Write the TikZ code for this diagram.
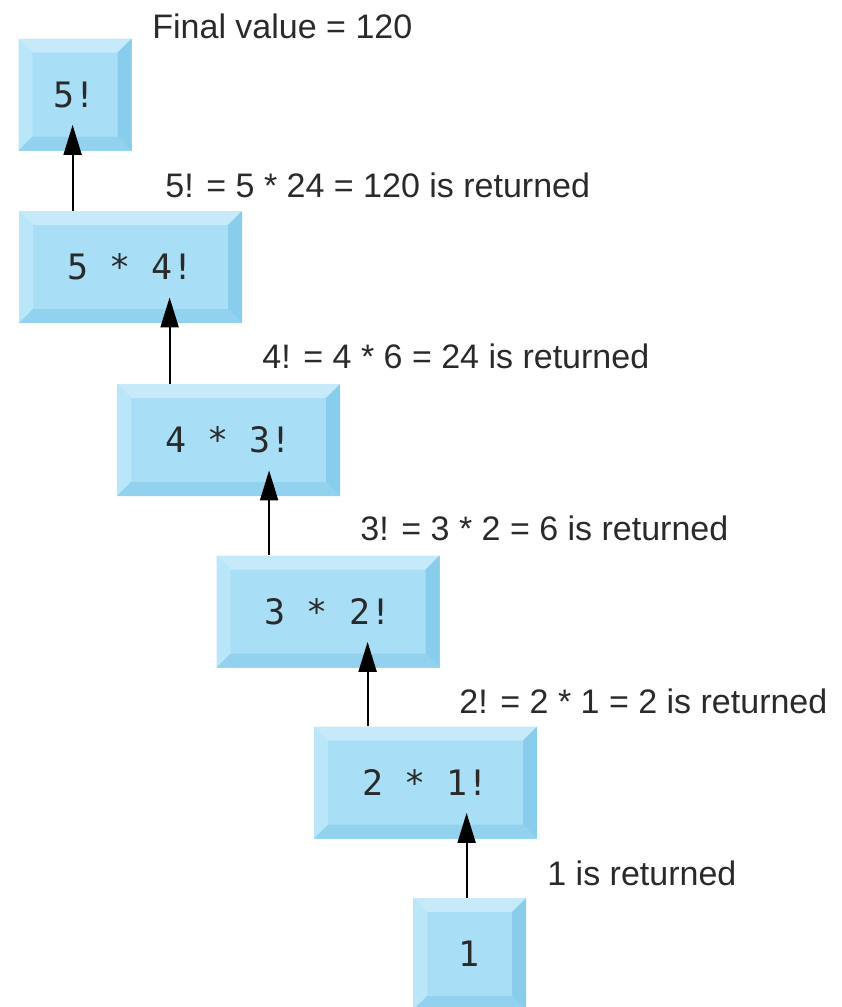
\documentclass[tikz,border=0pt]{standalone}
\usepackage{fontspec}
\setmainfont{Liberation Sans}
\setmonofont{DejaVu Sans Mono}
\usetikzlibrary{arrows.meta}
\definecolor{face}{HTML}{A8DEF6}
\definecolor{btop}{HTML}{C6EAFA}
\definecolor{bleft}{HTML}{BAE6F9}
\definecolor{bright}{HTML}{88CDEB}
\definecolor{bbottom}{HTML}{92D2EF}
\definecolor{txt}{HTML}{2A2A2A}
\tikzset{
  bbox/.style={minimum height=56pt, inner sep=0pt, fill=face, text=txt,
    font=\ttfamily\fontsize{17.5}{20}\selectfont,
    path picture={
      \fill[btop] (path picture bounding box.north west) -- (path picture bounding box.north east)
        -- ([shift={(-7pt,-7pt)}]path picture bounding box.north east)
        -- ([shift={(7pt,-7pt)}]path picture bounding box.north west) -- cycle;
      \fill[bleft] (path picture bounding box.north west) -- ([shift={(7pt,-7pt)}]path picture bounding box.north west)
        -- ([shift={(7pt,7pt)}]path picture bounding box.south west)
        -- (path picture bounding box.south west) -- cycle;
      \fill[bright] (path picture bounding box.north east) -- ([shift={(-7pt,-7pt)}]path picture bounding box.north east)
        -- ([shift={(-7pt,7pt)}]path picture bounding box.south east)
        -- (path picture bounding box.south east) -- cycle;
      \fill[bbottom] (path picture bounding box.south west) -- ([shift={(7pt,7pt)}]path picture bounding box.south west)
        -- ([shift={(-7pt,7pt)}]path picture bounding box.south east)
        -- (path picture bounding box.south east) -- cycle;
    }},
  widebox/.style={bbox, minimum width=111.5pt},
  narrowbox/.style={bbox, minimum width=56.5pt},
  lbl/.style={anchor=base west, inner sep=0pt, text=txt, font=\fontsize{17}{20}\selectfont},
  arr/.style={-{Triangle[length=15pt,width=9pt]}, line width=1pt, draw=black}
}
\begin{document}
\begin{tikzpicture}[x=0.5pt,y=-0.5pt]
\useasboundingbox (0,0) rectangle (841,1007);
\begin{scope}
\clip (0,0) rectangle (841,1007);
\node[narrowbox] (b1) at (75,94.5) {5!};
\node[widebox] (b2) at (130.5,267) {5 * 4!};
\node[widebox] (b3) at (228.5,440) {4 * 3!};
\node[widebox] (b4) at (328,611.5) {3 * 2!};
\node[widebox] (b5) at (425.5,782.5) {2 * 1!};
\node[narrowbox] (b6) at (469.5,954) {1};
\end{scope}

\node[lbl] (l0) at (152,38) {Final value = 120};
\node[lbl] (l1) at (165,197) {5! = 5 * 24 = 120 is returned};
\node[lbl] (l2) at (262,368) {4! = 4 * 6 = 24 is returned};
\node[lbl] (l3) at (360,540) {3! = 3 * 2 = 6 is returned};
\node[lbl] (l4) at (459,713) {2! = 2 * 1 = 2 is returned};
\node[lbl] (l5) at (547,885) {1 is returned};

\coordinate (s1) at ([xshift=27pt]b2.north west); \coordinate (t1) at ([yshift=13pt]b1.south);
\coordinate (s2) at ([xshift=26.5pt]b3.north west); \coordinate (t2) at ([yshift=13pt]b2.south);
\coordinate (s3) at ([xshift=26.5pt]b4.north west); \coordinate (t3) at ([yshift=13pt]b3.south);
\coordinate (s4) at ([xshift=27pt]b5.north west); \coordinate (t4) at ([yshift=13pt]b4.south);
\coordinate (s5) at ([xshift=27pt]b6.north west); \coordinate (t5) at ([yshift=13pt]b5.south);
\draw[arr] (s1) -- (s1 |- t1);
\draw[arr] (s2) -- (s2 |- t2);
\draw[arr] (s3) -- (s3 |- t3);
\draw[arr] (s4) -- (s4 |- t4);
\draw[arr] (s5) -- (s5 |- t5);
\end{tikzpicture}
\end{document}
